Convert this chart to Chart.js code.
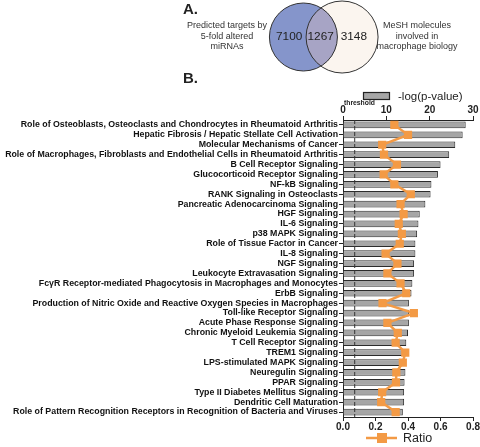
<!DOCTYPE html>
<html>
<head>
<meta charset="utf-8">
<script src="https://cdn.jsdelivr.net/npm/chart.js@4"></script>
<style>
  html, body { margin: 0; padding: 0; background: #fff; }
  #wrap { position: relative; width: 480px; height: 447px; font-family: "Liberation Sans", Arial, sans-serif; }
  #main { position: absolute; left: 0; top: 0; }
  #venn { position: absolute; left: 174px; top: 0; }
  .lbl { position: absolute; font-weight: bold; font-size: 15px; color: #222; }
  .vtxt { position: absolute; width: 110px; text-align: center; font-size: 9px; line-height: 10.5px; color: #333; }
</style>
</head>
<body>
<div id="wrap">
  <canvas id="main" width="480" height="447"></canvas>
  <canvas id="venn" width="300" height="74"></canvas>
  <div class="lbl" style="left:183px; top:0px;">A.</div>
  <div class="lbl" style="left:183px; top:69px;">B.</div>
  <div class="vtxt" style="left:172px; top:20px;">Predicted targets by<br>5-fold altered<br>miRNAs</div>
  <div class="vtxt" style="left:362px; top:20px;">MeSH molecules<br>involved in<br>macrophage biology</div>
</div>
<script>
// Venn counts (left only, overlap, right only)
const vennCounts = ['7100', '1267', '3148'];

// Canonical pathways
const pathways = [
    'Role of Osteoblasts, Osteoclasts and Chondrocytes in Rheumatoid Arthritis',
    'Hepatic Fibrosis / Hepatic Stellate Cell Activation',
    'Molecular Mechanisms of Cancer',
    'Role of Macrophages, Fibroblasts and Endothelial Cells in Rheumatoid Arthritis',
    'B Cell Receptor Signaling',
    'Glucocorticoid Receptor Signaling',
    'NF-kB Signaling',
    'RANK Signaling in Osteoclasts',
    'Pancreatic Adenocarcinoma Signaling',
    'HGF Signaling',
    'IL-6 Signaling',
    'p38 MAPK Signaling',
    'Role of Tissue Factor in Cancer',
    'IL-8 Signaling',
    'NGF Signaling',
    'Leukocyte Extravasation Signaling',
    'FcγR Receptor-mediated Phagocytosis in Macrophages and Monocytes',
    'ErbB Signaling',
    'Production of Nitric Oxide and Reactive Oxygen Species in Macrophages',
    'Toll-like Receptor Signaling',
    'Acute Phase Response Signaling',
    'Chronic Myeloid Leukemia Signaling',
    'T Cell Receptor Signaling',
    'TREM1 Signaling',
    'LPS-stimulated MAPK Signaling',
    'Neuregulin Signaling',
    'PPAR Signaling',
    'Type II Diabetes Mellitus Signaling',
    'Dendritic Cell Maturation',
    'Role of Pattern Recognition Receptors in Recognition of Bacteria and Viruses'
];

// -log(p-value), top axis
const logP = [28.3, 27.6, 25.9, 24.5, 22.5, 21.9, 20.4, 20.2, 19.0, 17.7,
              17.4, 17.1, 16.7, 16.7, 16.4, 16.4, 16.0, 15.8, 15.2, 15.2,
              15.2, 15.0, 14.6, 14.5, 14.4, 14.4, 14.2, 14.1, 14.1, 13.8];

// Ratio, bottom axis
const ratio = [0.316, 0.400, 0.241, 0.252, 0.332, 0.250, 0.316, 0.417, 0.354, 0.373,
               0.343, 0.362, 0.349, 0.262, 0.335, 0.273, 0.354, 0.389, 0.243, 0.436,
               0.273, 0.337, 0.324, 0.383, 0.368, 0.328, 0.326, 0.241, 0.235, 0.324];

const thresholdValue = 2.7;
const topTicks = [0, 10, 20, 30];
const bottomTicks = [0, 0.2, 0.4, 0.6, 0.8];

const FONT = '"Liberation Sans", Arial, sans-serif';
const ORANGE = '#f39a45';

// ---------- Venn ----------
const vennPlugin = {
    id: 'vennExtras',
    afterDatasetsDraw(chart) {
        const ctx = chart.ctx;
        const a = chart.getDatasetMeta(0).data[0];   // left
        const b = chart.getDatasetMeta(1).data[0];   // right
        const ra = a.options.radius, rb = b.options.radius;
        // overlap
        ctx.save();
        ctx.beginPath();
        ctx.arc(a.x, a.y, ra, 0, Math.PI * 2);
        ctx.clip();
        ctx.beginPath();
        ctx.arc(b.x, b.y, rb, 0, Math.PI * 2);
        ctx.fillStyle = '#a7a4c5';
        ctx.fill();
        ctx.restore();

        ctx.save();
        ctx.strokeStyle = '#333';
        ctx.lineWidth = 1;
        [[a, ra], [b, rb]].forEach(([p, r]) => {
            ctx.beginPath();
            ctx.arc(p.x, p.y, r, 0, Math.PI * 2);
            ctx.stroke();
        });
        const xs = chart.scales.x, ys = chart.scales.y;
        const pos = [-0.83, -0.08, 0.71];
        ctx.fillStyle = '#222';
        ctx.font = '11.8px ' + FONT;
        ctx.textAlign = 'center';
        ctx.textBaseline = 'middle';
        vennCounts.forEach((t, i) => ctx.fillText(t, xs.getPixelForValue(pos[i]), ys.getPixelForValue(0)));
        ctx.restore();
    }
};

new Chart(document.getElementById('venn'), {
    type: 'bubble',
    data: {
        datasets: [
            { data: [{ x: -0.49, y: 0, r: 34 }], backgroundColor: '#8595cb', borderWidth: 0, clip: false },
            { data: [{ x: 0.43, y: 0, r: 36 }], backgroundColor: '#fbf5ef', borderWidth: 0, clip: false }
        ]
    },
    options: {
        responsive: false,
        animation: false,
        events: [],
        layout: { padding: 0, autoPadding: false },
        plugins: { legend: { display: false }, tooltip: { enabled: false } },
        scales: {
            x: { display: false, min: -3.57, max: 3.57 },
            y: { display: false, min: -1, max: 1 }
        }
    },
    plugins: [vennPlugin]
});

// ---------- Pathway chart ----------
const extrasPlugin = {
    id: 'pathExtras',
    afterDatasetsDraw(chart) {
        const ctx = chart.ctx;
        const area = chart.chartArea;
        const tx = chart.scales.x.getPixelForValue(thresholdValue);
        ctx.save();
        ctx.strokeStyle = '#333';
        ctx.lineWidth = 1;
        ctx.setLineDash([4, 2]);
        ctx.beginPath();
        ctx.moveTo(tx, area.top);
        ctx.lineTo(tx, area.bottom);
        ctx.stroke();
        ctx.restore();
    },
    afterDraw(chart) {
        const ctx = chart.ctx;
        ctx.save();
        // threshold label
        ctx.fillStyle = '#222';
        ctx.font = 'bold 6.8px ' + FONT;
        ctx.textAlign = 'left';
        ctx.textBaseline = 'middle';
        ctx.fillText('threshold', 344, 103.5);

        // top legend: bar box
        ctx.fillStyle = '#a6a6a6';
        ctx.strokeStyle = '#222';
        ctx.lineWidth = 1.2;
        ctx.fillRect(363.5, 92.5, 26, 7);
        ctx.strokeRect(363.5, 92.5, 26, 7);
        ctx.fillStyle = '#222';
        ctx.font = '11.5px ' + FONT;
        ctx.fillText('-log(p-value)', 398, 96.5);

        // bottom legend: ratio
        ctx.strokeStyle = ORANGE;
        ctx.lineWidth = 2.5;
        ctx.beginPath();
        ctx.moveTo(366, 438);
        ctx.lineTo(397, 438);
        ctx.stroke();
        ctx.fillStyle = ORANGE;
        ctx.fillRect(377, 433, 10, 10);
        ctx.fillStyle = '#222';
        ctx.font = '12.5px ' + FONT;
        ctx.fillText('Ratio', 403, 438.5);
        ctx.restore();
    }
};

const tickFont = { family: FONT, size: 10, weight: 'bold' };

new Chart(document.getElementById('main'), {
    data: {
        labels: pathways,
        datasets: [
            {
                type: 'line',
                label: 'Ratio',
                data: ratio,
                indexAxis: 'y',
                xAxisID: 'x2',
                yAxisID: 'y',
                borderColor: ORANGE,
                backgroundColor: ORANGE,
                borderWidth: 2.5,
                pointStyle: 'rect',
                pointRadius: 5.8,
                pointBorderWidth: 0,
                tension: 0
            },
            {
                type: 'bar',
                label: '-log(p-value)',
                data: logP,
                xAxisID: 'x',
                yAxisID: 'y',
                backgroundColor: '#a6a6a6',
                borderColor: '#2b2b2b',
                borderWidth: 1,
                categoryPercentage: 1,
                barPercentage: 0.68
            }
        ]
    },
    options: {
        indexAxis: 'y',
        responsive: false,
        animation: false,
        events: [],
        layout: { padding: { top: 104, bottom: 14, left: 0, right: 6 } },
        plugins: { legend: { display: false }, tooltip: { enabled: false } },
        scales: {
            x: {
                type: 'linear',
                position: 'top',
                min: 0, max: 30,
                afterBuildTicks: s => { s.ticks = topTicks.map(v => ({ value: v })); },
                ticks: { font: tickFont, color: '#222', padding: 0, maxRotation: 0 },
                grid: { drawOnChartArea: false, tickLength: 4, color: '#222', tickColor: '#222' },
                border: { color: '#222', width: 1 }
            },
            x2: {
                type: 'linear',
                axis: 'x',
                position: 'bottom',
                min: 0, max: 0.8,
                afterBuildTicks: s => { s.ticks = bottomTicks.map(v => ({ value: v })); },
                ticks: { font: tickFont, color: '#222', padding: 0, maxRotation: 0, callback: v => v.toFixed(1) },
                grid: { drawOnChartArea: false, tickLength: 4, color: '#222', tickColor: '#222' },
                border: { color: '#222', width: 1 }
            },
            y: {
                type: 'category',
                position: 'left',
                offset: true,
                afterFit: s => { s.width = 343; },
                ticks: { font: { family: FONT, size: 8.8, weight: 'bold' }, color: '#111', padding: 1, autoSkip: false },
                grid: { drawOnChartArea: false, tickLength: 4, color: '#222', tickColor: '#222', offset: false },
                border: { color: '#222', width: 1 }
            }
        }
    },
    plugins: [extrasPlugin]
});
</script>
</body>
</html>
